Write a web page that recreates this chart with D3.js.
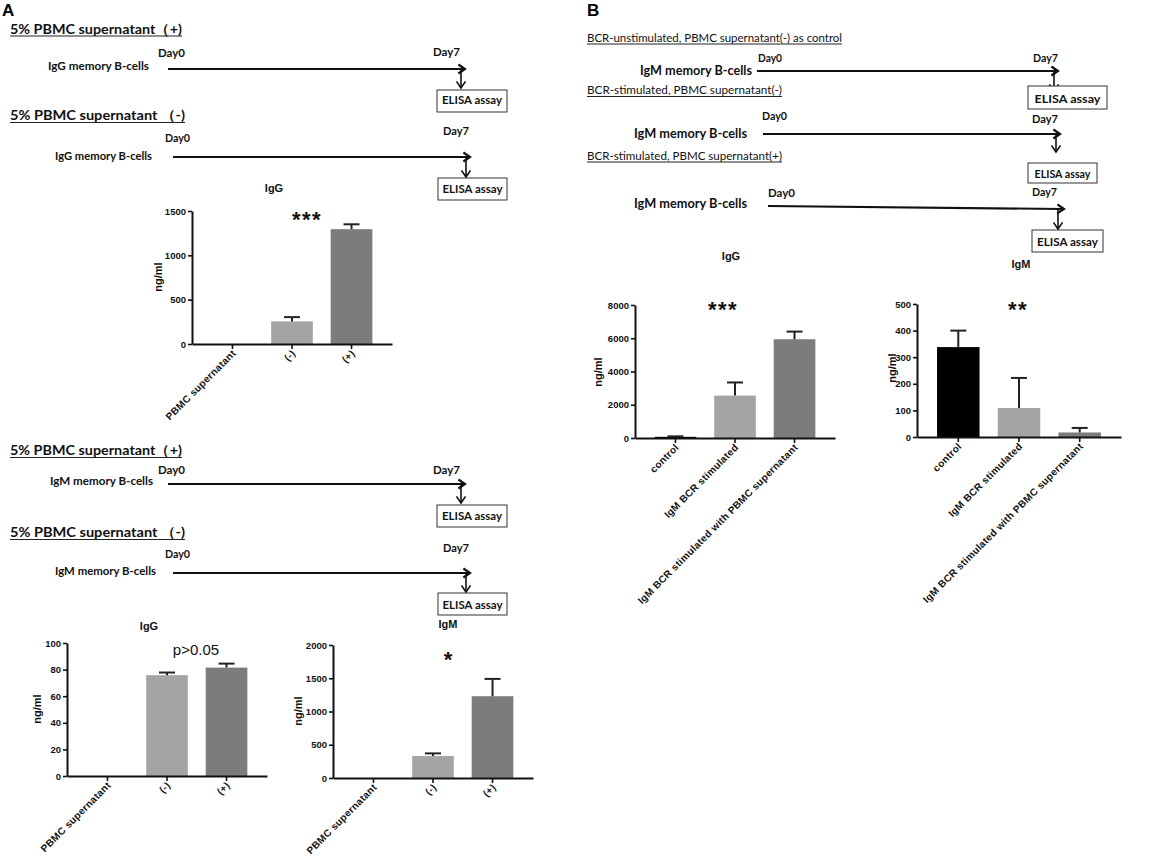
<!DOCTYPE html>
<html>
<head>
<meta charset="utf-8">
<script src="https://cdn.jsdelivr.net/npm/d3@7"></script>
<style>
  body { margin: 0; background: #fff; }
  svg { display: block; }
</style>
</head>
<body>
<svg id="fig" width="1156" height="861"></svg>
<script>
// --- DATA ---
const groupsA = ["PBMC supernatant", "(-)", "(+)"];
const groupsB = ["control", "IgM BCR stimulated", "IgM BCR stimulated with PBMC supernatant"];

// A, IgG memory B-cells -> IgG
const igGMemIgG = [0, 255, 1295];
const igGMemIgGErr = [0, 48, 55];
// A, IgM memory B-cells -> IgG
const igMMemIgG = [0, 75.8, 81.5];
const igMMemIgGErr = [0, 2, 3];
// A, IgM memory B-cells -> IgM
const igMMemIgM = [0, 330, 1230];
const igMMemIgMErr = [0, 40, 260];
// B, BCR stimulation -> IgG / IgM
const bcrIgG = [70, 2550, 5940];
const bcrIgGErr = [30, 790, 460];
const bcrIgM = [338, 109, 17];
const bcrIgMErr = [62, 113, 17];

const ticksA1 = [0, 500, 1000, 1500];
const ticksA2 = [0, 20, 40, 60, 80, 100];
const ticksA3 = [0, 500, 1000, 1500, 2000];
const ticksB1 = [0, 2000, 4000, 6000, 8000];
const ticksB2 = [0, 100, 200, 300, 400, 500];

const colorsA = ["#000000", "#a4a4a7", "#7c7c7c"];
const colorsB = ["#000000", "#a4a4a7", "#7c7c7c"];

const SCH_FONT = "Lato, 'Open Sans', sans-serif";
const PRISM_FONT = "'Liberation Sans', Arial, sans-serif";

const svg = d3.select("#fig");

// --- schematic helpers ---
function label(x, y, text, size, weight, width) {
    const t = svg.append("text")
        .attr("x", x).attr("y", y)
        .attr("font-family", SCH_FONT).attr("fill", "#111")
        .attr("font-size", size).attr("font-weight", weight)
        .text(text);
    if (width) t.attr("textLength", width).attr("lengthAdjust", "spacingAndGlyphs");
    return t;
}

function header(x, y, text, width, size, weight) {
    label(x, y, text, size || 14, weight || "bold", width);
    svg.append("line").attr("x1", x).attr("x2", x + width)
        .attr("y1", y + 2.5).attr("y2", y + 2.5)
        .attr("stroke", "#222").attr("stroke-width", 1.2);
}

function arrow(x1, y1, x2, y2, w) {
    const a = Math.atan2(y2 - y1, x2 - x1), L = 8, s = 0.6;
    svg.append("line").attr("x1", x1).attr("y1", y1).attr("x2", x2).attr("y2", y2)
        .attr("stroke", "#111").attr("stroke-width", w || 2.2);
    const p = [[x2 - L * Math.cos(a - s), y2 - L * Math.sin(a - s)], [x2, y2],
               [x2 - L * Math.cos(a + s), y2 - L * Math.sin(a + s)]];
    svg.append("path").attr("d", d3.line()(p))
        .attr("fill", "none").attr("stroke", "#111").attr("stroke-width", w || 2.2);
}

function elisa(x, y, w, h, tw, base) {
    svg.append("rect").attr("x", x).attr("y", y).attr("width", w).attr("height", h)
        .attr("fill", "#fff").attr("stroke", "#333").attr("stroke-width", 1);
    label(x + w / 2 - tw / 2, base, "ELISA assay", 11.5, "bold", tw);
}

// --- bar chart helper ---
function drawBars(o) {
    const g = svg.append("g");
    const x = d3.scaleBand().domain(o.groups)
        .range([o.left, o.left + o.width]).paddingInner(0.3).paddingOuter(0.33);
    const y = d3.scaleLinear().domain([0, d3.max(o.ticks)]).range([o.zero, o.zero - 133]);

    const rows = o.groups.map((k, i) => ({ k, v: o.values[i], e: o.errs[i], c: o.colors[i] }));

    g.selectAll("rect.bar").data(rows.filter(d => d.v > 0)).join("rect")
        .attr("class", "bar")
        .attr("x", d => x(d.k)).attr("width", x.bandwidth())
        .attr("y", d => y(d.v)).attr("height", d => y(0) - y(d.v))
        .attr("fill", d => d.c);

    // upper error bars
    const eb = rows.filter(d => d.e > 0);
    const cx = d => x(d.k) + x.bandwidth() / 2;
    g.selectAll("line.err").data(eb).join("line").attr("class", "err")
        .attr("x1", cx).attr("x2", cx)
        .attr("y1", d => y(d.v)).attr("y2", d => y(d.v + d.e))
        .attr("stroke", "#222").attr("stroke-width", 2);
    g.selectAll("line.cap").data(eb).join("line").attr("class", "cap")
        .attr("x1", d => cx(d) - 8).attr("x2", d => cx(d) + 8)
        .attr("y1", d => y(d.v + d.e)).attr("y2", d => y(d.v + d.e))
        .attr("stroke", "#222").attr("stroke-width", 2);

    // y axis
    const ya = g.append("g").attr("transform", `translate(${o.left},0)`)
        .call(d3.axisLeft(y).tickValues(o.ticks).tickFormat(d3.format("d"))
            .tickSize(4).tickSizeOuter(0).tickPadding(2));
    ya.attr("font-size", null).attr("font-family", null);
    ya.select(".domain").attr("stroke", "#111").attr("stroke-width", 2);
    ya.selectAll(".tick line").attr("stroke", "#111").attr("stroke-width", 1.6);
    ya.selectAll(".tick text").attr("font-family", PRISM_FONT).attr("fill", "#111")
        .attr("font-size", 9.5).attr("font-weight", "bold");

    // x axis
    const xa = g.append("g").attr("transform", `translate(0,${o.zero})`)
        .call(d3.axisBottom(x).tickSize(5).tickSizeOuter(0).tickFormat(""));
    xa.select(".domain").attr("stroke", "#111").attr("stroke-width", 2);
    xa.selectAll(".tick line").attr("stroke", "#111").attr("stroke-width", 1.6);

    g.selectAll("text.cat").data(o.groups).join("text").attr("class", "cat")
        .attr("transform", d => `translate(${x(d) + x.bandwidth() / 2 + 4},${o.zero + 10}) rotate(-45)`)
        .attr("text-anchor", "end").attr("font-family", PRISM_FONT).attr("fill", "#111")
        .attr("font-size", 10).attr("font-weight", "bold").attr("letter-spacing", 0.3)
        .text(d => d);

    g.append("text")
        .attr("transform", `translate(${o.yLab[0]},${o.yLab[1]}) rotate(-90)`)
        .attr("text-anchor", "middle").attr("dominant-baseline", "central")
        .attr("font-family", PRISM_FONT).attr("fill", "#111")
        .attr("font-size", 11).attr("font-weight", "bold").text("ng/ml");

    g.append("text").attr("x", o.title[0]).attr("y", o.title[1])
        .attr("text-anchor", "middle").attr("font-family", PRISM_FONT).attr("fill", "#111")
        .attr("font-size", 11).attr("font-weight", "bold")
        .text(o.titleText);

    g.append("text").attr("x", o.sig[0]).attr("y", o.sig[1])
        .attr("text-anchor", "middle").attr("font-family", PRISM_FONT).attr("fill", "#111")
        .attr("font-size", o.sigSize || 22).attr("font-weight", o.sigWeight || "bold")
        .attr("letter-spacing", o.sigSpacing || 0)
        .text(o.sigText);
}

// --- panel letters ---
svg.append("text").attr("x", 2).attr("y", 16).attr("font-family", PRISM_FONT)
    .attr("font-size", 17).attr("font-weight", "bold").text("A");
svg.append("text").attr("x", 587).attr("y", 16).attr("font-family", PRISM_FONT)
    .attr("font-size", 17).attr("font-weight", "bold").text("B");

// --- Panel A schematics ---
header(10, 33.5, "5% PBMC supernatant（+)", 172);
label(158, 57, "Day0", 11, "bold", 27);
label(433, 56, "Day7", 11, "bold", 27);
label(48, 70, "IgG memory B-cells", 11.5, "bold", 101);
arrow(168, 69, 465, 69);
arrow(461, 70, 461, 88, 1.6);
elisa(437, 90, 70, 22, 60, 104);

header(10, 120, "5% PBMC supernatant （-)", 175);
label(165, 142, "Day0", 11, "bold", 25);
label(443, 135, "Day7", 11, "bold", 26);
label(55, 160, "IgG memory B-cells", 11.5, "bold", 97);
arrow(173, 157, 470, 157);
arrow(466, 158, 466, 177, 1.6);
elisa(438, 178, 69, 22, 60, 193);

header(10, 455, "5% PBMC supernatant（+)", 172);
label(158, 474, "Day0", 11, "bold", 27);
label(433, 474, "Day7", 11, "bold", 27);
label(50, 485, "IgM memory B-cells", 11.5, "bold", 103);
arrow(168, 484, 465, 484);
arrow(461, 485, 461, 503, 1.6);
elisa(437, 505, 70, 22, 60, 520);

header(10, 537, "5% PBMC supernatant （-)", 175);
label(165, 558, "Day0", 11, "bold", 25);
label(443, 552, "Day7", 11, "bold", 26);
label(55, 575, "IgM memory B-cells", 11.5, "bold", 101);
arrow(173, 573, 470, 573);
arrow(466, 574, 466, 592, 1.6);
elisa(438, 593, 69, 22, 60, 609);

// --- Panel B schematics ---
header(587, 41.5, "BCR-unstimulated, PBMC supernatant(-) as control", 255, 12, "normal");
label(758, 61.5, "Day0", 11, "bold", 24);
label(1033, 61.5, "Day7", 11, "bold", 25);
label(640, 75, "IgM memory  B-cells", 14, "bold", 112);
arrow(757, 71, 1058, 71);
arrow(1054, 72, 1054, 91, 1.6);
elisa(1028, 86, 79, 23, 66, 103);

header(587, 94, "BCR-stimulated, PBMC supernatant(-)", 195, 12, "normal");
label(762, 120, "Day0", 11, "bold", 25);
label(1032, 123, "Day7", 11, "bold", 26);
label(634, 138, "IgM memory  B-cells", 14, "bold", 113);
arrow(763, 134, 1060, 134);
arrow(1056, 135, 1056, 152, 1.6);

header(587, 159.5, "BCR-stimulated, PBMC supernatant(+)", 195, 12, "normal");
elisa(1028, 163, 69, 20, 56, 178);
label(768, 197, "Day0", 11, "bold", 27);
label(1032, 196, "Day7", 11, "bold", 25);
label(634, 208, "IgM memory  B-cells", 14, "bold", 113);
arrow(768, 206, 1064, 209);
arrow(1058, 209, 1058, 229, 1.6);
elisa(1032, 230, 71, 22, 61, 246);

// --- bar charts ---
drawBars({ groups: groupsA, values: igGMemIgG, errs: igGMemIgGErr, colors: colorsA, ticks: ticksA1,
    left: 192, width: 200, zero: 344, yLab: [158, 277], title: [274, 192], titleText: "IgG",
    sig: [307, 227], sigText: "***", sigSpacing: 1.5 });

drawBars({ groups: groupsA, values: igMMemIgG, errs: igMMemIgGErr, colors: colorsA, ticks: ticksA2,
    left: 67, width: 200, zero: 776, yLab: [37, 709], title: [149, 630], titleText: "IgG",
    sig: [196, 655], sigText: "p>0.05", sigSize: 15, sigWeight: "normal" });

drawBars({ groups: groupsA, values: igMMemIgM, errs: igMMemIgMErr, colors: colorsA, ticks: ticksA3,
    left: 333, width: 200, zero: 778, yLab: [298, 711], title: [448, 628], titleText: "IgM",
    sig: [448, 667], sigText: "*" });

drawBars({ groups: groupsB, values: bcrIgG, errs: bcrIgGErr, colors: colorsB, ticks: ticksB1,
    left: 635, width: 200, zero: 438, yLab: [598, 372], title: [731, 260], titleText: "IgG",
    sig: [723, 317], sigText: "***", sigSpacing: 1.5 });

drawBars({ groups: groupsB, values: bcrIgM, errs: bcrIgMErr, colors: colorsB, ticks: ticksB2,
    left: 917, width: 204, zero: 437, yLab: [892, 368], title: [1021, 268], titleText: "IgM",
    sig: [1018, 317], sigText: "**", sigSpacing: 1.5 });
</script>
</body>
</html>
